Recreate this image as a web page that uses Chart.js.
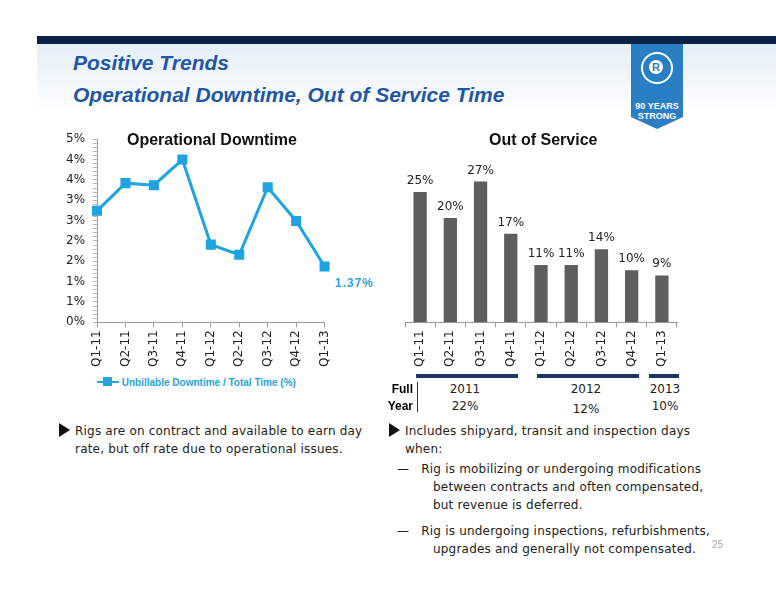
<!DOCTYPE html>
<html><head><meta charset="utf-8">
<script src="https://cdn.jsdelivr.net/npm/chart.js@4"></script>
<style>
body{margin:0;width:776px;height:600px;background:#fff;position:relative;overflow:hidden;font-family:"Liberation Sans",Arial,sans-serif}
.abs{position:absolute}
#band{left:37px;top:36px;width:739px;height:8px;background:#0b2145}
#hdr{left:37px;top:44px;width:739px;height:70px;background:linear-gradient(#e4eef8,#fff)}
.t1{left:73px;font-style:italic;font-weight:bold;color:#1f57a4;font-size:21px}
#logo{left:631px;top:44px;width:52px;height:85px;background:#2a7fc4;clip-path:polygon(0 0,100% 0,100% 86%,50% 100%,0 86%)}
.ct{font-weight:bold;font-size:16px;color:#111}
.body{font-family:"DejaVu Sans",sans-serif;font-size:12px;color:#222;line-height:18px;letter-spacing:0.2px}
.tri{display:inline-block;width:0;height:0;border-top:7px solid transparent;border-bottom:7px solid transparent;border-left:11px solid #111;vertical-align:-2px;margin-right:5px}
.fy{font-family:"DejaVu Sans",sans-serif;font-size:12px;color:#222;text-align:center}
.ln{height:4px;background:#1d3764}
</style></head><body>
<div id="band" class="abs"></div><div id="hdr" class="abs"></div>
<div class="abs t1" style="top:51px">Positive Trends</div>
<div class="abs t1" style="top:83px">Operational Downtime, Out of Service Time</div>
<div id="logo" class="abs">
 <div class="abs" style="left:10px;top:8px;width:28px;height:28px;border:2px solid #fff;border-radius:50%"></div>
 <div class="abs" style="left:18px;top:16px;width:14px;height:14px;background:#fff;border-radius:50%;color:#2a7fc4;font-weight:bold;font-size:11px;text-align:center;line-height:14px">R</div>
 <div class="abs" style="left:0;top:57px;width:52px;text-align:center;color:#fff;font-weight:bold;font-size:9px;line-height:10px">90 YEARS<br>STRONG</div>
</div>
<canvas id="c1" class="abs" style="left:58px;top:124px"></canvas>
<canvas id="c2" class="abs" style="left:395px;top:145px"></canvas>
<div class="abs ct" style="left:127px;top:131px">Operational Downtime</div>
<div class="abs ct" style="left:489px;top:131px">Out of Service</div>
<div class="abs" style="left:335px;top:276px;color:#29a3dc;font-weight:bold;font-size:12px;letter-spacing:1px">1.37%</div>
<div class="abs" style="left:97px;top:377px;font-size:10px;font-weight:bold;color:#29a3dc">
 <span style="display:inline-block;width:22px;height:2px;background:#29a3dc;vertical-align:3px;position:relative"><span style="position:absolute;left:6px;top:-4px;width:9px;height:9px;background:#29a3dc"></span></span>
 Unbillable Downtime / Total Time (%)</div>
<div class="abs ln" style="left:416px;top:374px;width:102px"></div>
<div class="abs ln" style="left:537px;top:374px;width:102px"></div>
<div class="abs ln" style="left:649px;top:374px;width:30px"></div>
<div class="abs" style="left:383px;top:381px;font-size:12px;font-weight:bold;line-height:17px;text-align:right;width:30px">Full<br>Year</div>
<div class="abs" style="left:417px;top:382px;width:1px;height:30px;background:#1d3764"></div>
<div class="abs fy" style="left:440px;top:381px;width:50px;line-height:17px">2011<br>22%</div>
<div class="abs fy" style="left:561px;top:381px;width:50px;line-height:17px">2012<br><span style="position:relative;top:3px">12%</span></div>
<div class="abs fy" style="left:640px;top:381px;width:50px;line-height:17px">2013<br>10%</div>
<div class="abs body" style="left:59px;top:422px;width:330px"><span class="tri"></span>Rigs are on contract and available to earn day<br><span style="margin-left:16px">rate, but off rate due to operational issues.</span></div>
<div class="abs body" style="left:389px;top:422px;width:380px"><span class="tri"></span>Includes shipyard, transit and inspection days<br><span style="margin-left:16px">when:</span>
<div style="margin-top:2px;margin-left:8px">—&nbsp;&nbsp; Rig is mobilizing or undergoing modifications<br><span style="margin-left:36px">between contracts and often compensated,</span><br><span style="margin-left:36px">but revenue is deferred.</span></div>
<div style="margin-top:8px;margin-left:8px">—&nbsp;&nbsp; Rig is undergoing inspections, refurbishments,<br><span style="margin-left:36px">upgrades and generally not compensated.</span></div></div>
<div class="abs" style="left:712px;top:539px;font-size:10px;color:#aaa">25</div>
<script>
const quarters=["Q1-11","Q2-11","Q3-11","Q4-11","Q1-12","Q2-12","Q3-12","Q4-12","Q1-13"];
const downtime=[2.74,3.42,3.37,4.0,1.91,1.66,3.32,2.49,1.37];
const outOfService=[25,20,27,17,11,11,14,10,9];
const oosLabels=["25%","20%","27%","17%","11%","11%","14%","10%","9%"];
const F="'DejaVu Sans', sans-serif";
function sz(id,w,h){const c=document.getElementById(id);c.width=w;c.height=h;c.style.width=w+'px';c.style.height=h+'px';return c;}
new Chart(sz('c1',284,246),{type:'line',
 data:{labels:quarters,datasets:[{data:downtime,borderColor:'#1ea4e0',backgroundColor:'#1ea4e0',borderWidth:3,pointStyle:'rect',pointRadius:5,pointHoverRadius:5,tension:0}]},
 options:{responsive:false,animation:false,layout:{padding:{top:12,right:6}},
  plugins:{legend:{display:false},tooltip:{enabled:false}},
  scales:{y:{min:0,max:4.5,ticks:{autoSkip:false,color:'#222',font:{family:F,size:12},padding:8,
     callback:v=>{const r=Math.round(v*10);return r%5===0?Math.round(r/10)+'%':'';}},
     afterBuildTicks:a=>{a.ticks=[];for(let i=0;i<=45;i++)a.ticks.push({value:i/10});},
     grid:{display:true,drawOnChartArea:false,tickLength:4,tickColor:'#bbb'},border:{color:'#999'}},
   x:{ticks:{color:'#222',font:{family:F,size:12},maxRotation:90,minRotation:90},grid:{display:true,drawOnChartArea:false,tickLength:5,tickColor:'#999'},border:{color:'#999'}}}}});
const lbl={id:'lbl',afterDatasetsDraw(ch){const c=ch.ctx;c.save();c.font="12px "+F;c.fillStyle='#222';c.textAlign='center';
 ch.getDatasetMeta(0).data.forEach((b,i)=>c.fillText(oosLabels[i],b.x,b.y-8));c.restore();}};
new Chart(sz('c2',290,225),{type:'bar',plugins:[lbl],
 data:{labels:quarters,datasets:[{data:outOfService,backgroundColor:'#5e5e5e',categoryPercentage:0.8,barPercentage:0.55}]},
 options:{responsive:false,animation:false,layout:{padding:{top:0,left:10,right:8}},
  plugins:{legend:{display:false},tooltip:{enabled:false}},
  scales:{y:{display:false,min:0,max:34},
   x:{ticks:{color:'#222',font:{family:F,size:12},maxRotation:90,minRotation:90},grid:{display:true,drawOnChartArea:false,tickLength:5,tickColor:'#999'},border:{color:'#999'}}}}});
</script></body></html>
